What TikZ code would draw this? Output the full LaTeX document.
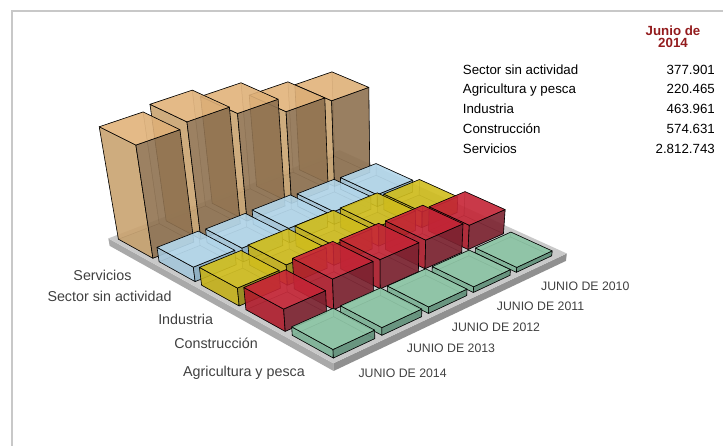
\documentclass[tikz,border=0pt]{standalone}
\usepackage{fontspec}
\setmainfont{Liberation Sans}
\usetikzlibrary{positioning}

\definecolor{tantop}{HTML}{E3B47B}
\definecolor{tanleft}{HTML}{C9A370}
\definecolor{tanright}{HTML}{8E7150}
\definecolor{bluetop}{HTML}{B5D9ED}
\definecolor{blueleft}{HTML}{A7C8DC}
\definecolor{blueright}{HTML}{8AAEC3}
\definecolor{yeltop}{HTML}{D3C01E}
\definecolor{yelleft}{HTML}{C6B21A}
\definecolor{yelright}{HTML}{958714}
\definecolor{redtop}{HTML}{C82536}
\definecolor{redleft}{HTML}{B11D2C}
\definecolor{redright}{HTML}{7C2230}
\definecolor{grntop}{HTML}{8DC7A6}
\definecolor{grnleft}{HTML}{7DB396}
\definecolor{grnright}{HTML}{5F9079}
\definecolor{slabtop}{HTML}{C9C9C9}
\definecolor{slabside}{HTML}{A9A9A9}
\definecolor{txtgray}{HTML}{404040}
\definecolor{framegray}{HTML}{C8C8C8}
\definecolor{titlered}{HTML}{931B1D}

%point of the chart: name, date axis, sector axis, height
\newcommand{\setpt}[4]{%
  \pgfmathsetmacro{\prjd}{1+0.021*(#2)+0.023*(#3)-0.02618*(#4)}%
  \pgfmathsetmacro{\prju}{333.3+(49.75*(#2)-49.4*(#3)-1.48*(#4))/\prjd}%
  \pgfmathsetmacro{\prjv}{361.8+(-23.37*(#2)-27.4*(#3)-38.44*(#4))/\prjd}%
  \coordinate (#1) at (\prju pt,-\prjv pt);}

%one bar: name, column, row, value, colour prefix
\newcommand{\prism}[5]{%
  \pgfmathsetmacro{\pxa}{#2+0.075}%
  \pgfmathsetmacro{\pxb}{#2+0.925}%
  \pgfmathsetmacro{\pya}{#3+0.075}%
  \pgfmathsetmacro{\pyb}{#3+0.925}%
  \setpt{#1a}{\pxa}{\pya}{0}%
  \setpt{#1b}{\pxb}{\pya}{0}%
  \setpt{#1c}{\pxb}{\pyb}{0}%
  \setpt{#1d}{\pxa}{\pyb}{0}%
  \setpt{#1e}{\pxa}{\pya}{#4}%
  \setpt{#1f}{\pxb}{\pya}{#4}%
  \setpt{#1g}{\pxb}{\pyb}{#4}%
  \setpt{#1h}{\pxa}{\pyb}{#4}%
  \filldraw[hidden,fill=#5right] (#1a) -- (#1b) -- (#1c) -- (#1d) -- cycle;
  \filldraw[hidden,fill=#5right] (#1b) -- (#1c) -- (#1g) -- (#1f) -- cycle;
  \filldraw[hidden,fill=#5left] (#1c) -- (#1d) -- (#1h) -- (#1g) -- cycle;
  \filldraw[face,fill=#5left] (#1a) -- (#1d) -- (#1h) -- (#1e) -- cycle;
  \filldraw[face,fill=#5right] (#1a) -- (#1b) -- (#1f) -- (#1e) -- cycle;
  \filldraw[face,fill=#5top] (#1e) -- (#1f) -- (#1g) -- (#1h) -- cycle;}

\begin{document}
\begin{tikzpicture}[
    face/.style={draw=black,line width=0.6pt,line join=round,
        fill opacity=0.85},
    hidden/.style={draw=black,draw opacity=0.3,line width=0.5pt,
        fill opacity=0.35},
    catlbl/.style={anchor=east,inner sep=0pt,text=txtgray,
        text height=10.2pt,text depth=0pt,font=\fontsize{14.3}{17}\selectfont},
    datelbl/.style={anchor=west,inner sep=0pt,text=txtgray,
        text height=8.8pt,text depth=0pt,font=\fontsize{12.3}{15}\selectfont},
    tablbl/.style={anchor=west,inner sep=0pt,
        text height=9.5pt,text depth=0pt,font=\fontsize{13.3}{16}\selectfont},
    tabval/.style={anchor=east,inner sep=0pt,
        text height=9.5pt,text depth=0pt,font=\fontsize{13.3}{16}\selectfont},
    ]
    \useasboundingbox (0pt,0pt) rectangle (723pt,-446pt);

    %frame
    \draw[framegray,line width=2pt] (12pt,-446pt) -- (12pt,-11pt) -- (723pt,-11pt);

    %platform
    \setpt{pfa}{-0.03}{-0.03}{0}
    \setpt{pfb}{5.17}{-0.03}{0}
    \setpt{pfc}{5.17}{5.05}{0}
    \setpt{pfd}{-0.03}{5.05}{0}
    \setpt{pfe}{-0.03}{-0.03}{-0.2}
    \setpt{pff}{5.17}{-0.03}{-0.2}
    \setpt{pfh}{-0.03}{5.05}{-0.2}
    \fill[slabside] (pfa) -- (pfd) -- (pfh) -- (pfe) -- cycle;
    \fill[slabside!85!black] (pfa) -- (pfb) -- (pff) -- (pfe) -- cycle;
    \fill[slabtop] (pfa) -- (pfb) -- (pfc) -- (pfd) -- cycle;

    %Servicios
    \prism{ser10}{4}{4}{2.23}{tan}
    \prism{ser11}{3}{4}{2.36}{tan}
    \prism{ser12}{2}{4}{2.72}{tan}
    \prism{ser13}{1}{4}{2.93}{tan}
    \prism{ser14}{0}{4}{2.81}{tan}

    %Sector sin actividad
    \prism{ssa10}{4}{3}{0.32}{blue}
    \prism{ssa11}{3}{3}{0.34}{blue}
    \prism{ssa12}{2}{3}{0.38}{blue}
    \prism{ssa13}{1}{3}{0.36}{blue}
    \prism{ssa14}{0}{3}{0.378}{blue}

    %Industria
    \prism{ind10}{4}{2}{0.42}{yel}
    \prism{ind11}{3}{2}{0.52}{yel}
    \prism{ind12}{2}{2}{0.53}{yel}
    \prism{ind13}{1}{2}{0.53}{yel}
    \prism{ind14}{0}{2}{0.464}{yel}

    %Construccion
    \prism{con10}{4}{1}{0.64}{red}
    \prism{con11}{3}{1}{0.75}{red}
    \prism{con12}{2}{1}{0.76}{red}
    \prism{con13}{1}{1}{0.79}{red}
    \prism{con14}{0}{1}{0.575}{red}

    %Agricultura y pesca
    \prism{agr10}{4}{0}{0.13}{grn}
    \prism{agr11}{3}{0}{0.15}{grn}
    \prism{agr12}{2}{0}{0.17}{grn}
    \prism{agr13}{1}{0}{0.20}{grn}
    \prism{agr14}{0}{0}{0.22}{grn}

    %sector labels
    \node[catlbl] (lser) at (131.7pt,-275pt) {Servicios};
    \node[catlbl] (lssa) at (171.7pt,-296pt) {Sector sin actividad};
    \node[catlbl] (lind) at (213.3pt,-319.3pt) {Industria};
    \node[catlbl] (lcon) at (258pt,-343.3pt) {Construcción};
    \node[catlbl] (lagr) at (305pt,-371.7pt) {Agricultura y pesca};

    %date labels
    \node[datelbl] (d14) at (358.3pt,-372.7pt) {JUNIO DE 2014};
    \node[datelbl] (d13) at (406.7pt,-348.3pt) {JUNIO DE 2013};
    \node[datelbl] (d12) at (451.7pt,-326.7pt) {JUNIO DE 2012};
    \node[datelbl] (d11) at (496.7pt,-306pt) {JUNIO DE 2011};
    \node[datelbl] (d10) at (541pt,-286pt) {JUNIO DE 2010};

    %table
    \node[text=titlered,align=center,inner sep=0pt,
        font=\fontsize{13.3}{12}\selectfont\bfseries] (ttl) at (673pt,-36.7pt)
        {Junio de\\2014};
    \node[tablbl] (t1) at (462.7pt,-69.3pt) {Sector sin actividad};
    \node[tabval] (v1) at (715pt,-69.3pt) {377.901};
    \node[tablbl] (t2) at (462.7pt,-89pt) {Agricultura y pesca};
    \node[tabval] (v2) at (715pt,-89pt) {220.465};
    \node[tablbl] (t3) at (462.7pt,-109pt) {Industria};
    \node[tabval] (v3) at (715pt,-109pt) {463.961};
    \node[tablbl] (t4) at (462.7pt,-129pt) {Construcción};
    \node[tabval] (v4) at (715pt,-129pt) {574.631};
    \node[tablbl] (t5) at (462.7pt,-149pt) {Servicios};
    \node[tabval] (v5) at (715pt,-149pt) {2.812.743};

\end{tikzpicture}
\end{document}
